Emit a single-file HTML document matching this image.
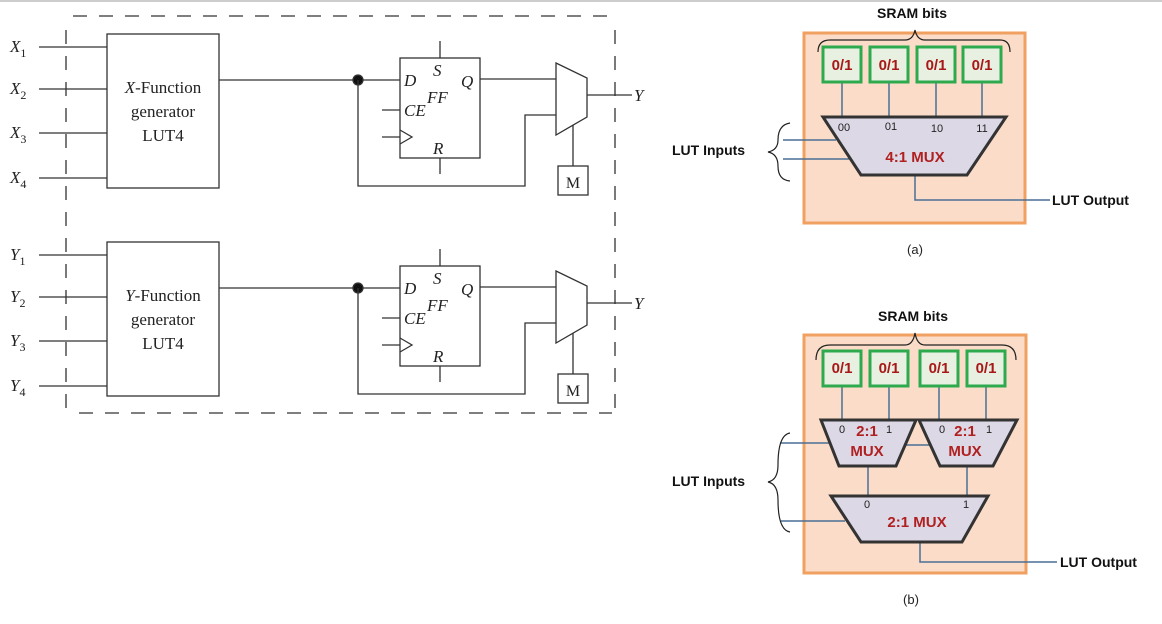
<!DOCTYPE html>
<html><head><meta charset="utf-8"><style>
html,body{margin:0;padding:0;background:#fff;}
svg{display:block;}
.s{font-family:"Liberation Serif",serif;fill:#222;}
.a{font-family:"Liberation Sans",sans-serif;}
</style></head><body>
<svg width="1162" height="624" viewBox="0 0 1162 624" xmlns="http://www.w3.org/2000/svg">
<line x1="0" y1="1" x2="1162" y2="1" stroke="#ccc" stroke-width="2"/>
<defs>
<g id="half" stroke="#333" stroke-width="1.3" fill="none">
  <line x1="39" y1="47" x2="107" y2="47"/>
  <line x1="39" y1="89" x2="107" y2="89"/>
  <line x1="39" y1="133" x2="107" y2="133"/>
  <line x1="39" y1="178" x2="107" y2="178"/>
  <rect x="107" y="34" width="112" height="154"/>
  <line x1="219" y1="80" x2="400" y2="80"/>
  <circle cx="358" cy="80" r="5" fill="#111"/>
  <rect x="400" y="58" width="80" height="100"/>
  <line x1="440" y1="41" x2="440" y2="58"/>
  <line x1="440" y1="158" x2="440" y2="174"/>
  <line x1="382" y1="110" x2="400" y2="110"/>
  <line x1="382" y1="137" x2="400" y2="137"/>
  <polyline points="400,130 412,137 400,144"/>
  <line x1="480" y1="79" x2="556" y2="79"/>
  <polygon points="556,63 587,78 587,117 556,135"/>
  <line x1="587" y1="95" x2="632" y2="95"/>
  <polyline points="358,80 358,186 525,186 525,115 556,115"/>
  <line x1="573" y1="125" x2="573" y2="166"/>
  <rect x="558" y="166" width="30" height="29"/>
</g>
</defs>
<!-- dashed frame -->
<g stroke="#333" stroke-width="1.3" fill="none" stroke-dasharray="14,12">
  <line x1="73" y1="16" x2="612" y2="16"/>
  <line x1="79" y1="413" x2="612" y2="413"/>
  <line x1="615" y1="30" x2="615" y2="410"/>
  <line x1="66" y1="30" x2="66" y2="410"/>
</g>
<use href="#half"/>
<use href="#half" transform="translate(0,208)"/>
<g class="s" font-size="17">
  <text x="10" y="52" font-style="italic">X<tspan font-size="12" font-style="normal" dy="5">1</tspan></text>
  <text x="10" y="94" font-style="italic">X<tspan font-size="12" font-style="normal" dy="5">2</tspan></text>
  <text x="10" y="138" font-style="italic">X<tspan font-size="12" font-style="normal" dy="5">3</tspan></text>
  <text x="10" y="183" font-style="italic">X<tspan font-size="12" font-style="normal" dy="5">4</tspan></text>
  <text x="10" y="260" font-style="italic">Y<tspan font-size="12" font-style="normal" dy="5">1</tspan></text>
  <text x="10" y="302" font-style="italic">Y<tspan font-size="12" font-style="normal" dy="5">2</tspan></text>
  <text x="10" y="346" font-style="italic">Y<tspan font-size="12" font-style="normal" dy="5">3</tspan></text>
  <text x="10" y="391" font-style="italic">Y<tspan font-size="12" font-style="normal" dy="5">4</tspan></text>
  <text x="163" y="93" text-anchor="middle"><tspan font-style="italic">X</tspan>-Function</text>
  <text x="163" y="117" text-anchor="middle">generator</text>
  <text x="163" y="141" text-anchor="middle">LUT4</text>
  <text x="163" y="301" text-anchor="middle"><tspan font-style="italic">Y</tspan>-Function</text>
  <text x="163" y="325" text-anchor="middle">generator</text>
  <text x="163" y="349" text-anchor="middle">LUT4</text>
  <g font-style="italic">
    <text x="404" y="86">D</text><text x="433" y="76">S</text><text x="461" y="87">Q</text>
    <text x="427" y="103">FF</text><text x="404" y="116">CE</text><text x="433" y="154">R</text>
    <text x="404" y="294">D</text><text x="433" y="284">S</text><text x="461" y="295">Q</text>
    <text x="427" y="311">FF</text><text x="404" y="324">CE</text><text x="433" y="362">R</text>
    <text x="634" y="101">Y</text><text x="634" y="309">Y</text>
  </g>
  <text x="573" y="188" text-anchor="middle" font-size="16">M</text>
  <text x="573" y="396" text-anchor="middle" font-size="16">M</text>
</g>

<!-- (a) -->
<g class="a">
  <rect x="804" y="33" width="221" height="190" fill="#fbdcc8" stroke="#f0a060" stroke-width="3"/>
  <text x="912" y="18" text-anchor="middle" font-size="14" font-weight="bold" fill="#111">SRAM bits</text>
  <path d="M818,52 Q818,40 830,40 L905,40 Q913,40 915,30 Q917,40 925,40 L1000,40 Q1010,40 1010,52" fill="none" stroke="#222" stroke-width="1.2"/>
  <g stroke="#4a6f95" stroke-width="1.5">
    <line x1="842" y1="82" x2="842" y2="117"/><line x1="889" y1="82" x2="889" y2="117"/>
    <line x1="936" y1="82" x2="936" y2="117"/><line x1="982" y1="82" x2="982" y2="117"/>
    <line x1="783" y1="140" x2="836" y2="140"/><line x1="783" y1="159" x2="849" y2="159"/>
    <polyline points="915,175 915,200 1050,200" fill="none"/>
  </g>
  <g fill="#e8f0e2" stroke="#2eaa4e" stroke-width="3">
    <rect x="823" y="47" width="38" height="35"/><rect x="870" y="47" width="38" height="35"/>
    <rect x="917" y="47" width="38" height="35"/><rect x="963" y="47" width="38" height="35"/>
  </g>
  <g font-size="15" font-weight="bold" fill="#a81818" text-anchor="middle">
    <text x="842" y="70">0/1</text><text x="889" y="70">0/1</text><text x="936" y="70">0/1</text><text x="982" y="70">0/1</text>
  </g>
  <polygon points="823,117 1006,117 967,175 861,175" fill="#dcd8e6" stroke="#333" stroke-width="3"/>
  <g font-size="11" fill="#222" text-anchor="middle">
    <text x="844" y="131">00</text><text x="891" y="130">01</text><text x="937" y="132">10</text><text x="982" y="132">11</text>
  </g>
  <text x="915" y="162" text-anchor="middle" font-size="15" font-weight="bold" fill="#b02020">4:1 MUX</text>
  <path d="M790,123 Q778,125 778,140 Q778,150 768,152 Q778,154 778,166 Q778,180 790,181" fill="none" stroke="#222" stroke-width="1.2"/>
  <text x="672" y="155" font-size="14" font-weight="bold" fill="#111">LUT Inputs</text>
  <text x="1052" y="205" font-size="14" font-weight="bold" fill="#111">LUT Output</text>
  <text x="915" y="254" text-anchor="middle" font-size="13" fill="#222">(a)</text>
</g>

<!-- (b) -->
<g class="a">
  <rect x="804" y="335" width="222" height="238" fill="#fbdcc8" stroke="#f0a060" stroke-width="3"/>
  <text x="913" y="321" text-anchor="middle" font-size="14" font-weight="bold" fill="#111">SRAM bits</text>
  <path d="M816,360 Q816,345 830,345 L905,345 Q913,345 915,333 Q917,345 925,345 L1002,345 Q1016,345 1016,360" fill="none" stroke="#222" stroke-width="1.2"/>
  <g stroke="#4a6f95" stroke-width="1.5" fill="none">
    <line x1="842" y1="386" x2="842" y2="420"/><line x1="889" y1="386" x2="889" y2="420"/>
    <line x1="939" y1="386" x2="939" y2="420"/><line x1="986" y1="386" x2="986" y2="420"/>
    <line x1="780" y1="443" x2="832" y2="443"/>
    <line x1="900" y1="445" x2="932" y2="445"/>
    <line x1="868" y1="466" x2="868" y2="496"/><line x1="967" y1="466" x2="967" y2="496"/>
    <line x1="781" y1="521" x2="845" y2="521"/>
    <polyline points="920,542 920,562 1057,562"/>
  </g>
  <g fill="#e8f0e2" stroke="#2eaa4e" stroke-width="3">
    <rect x="823" y="351" width="38" height="35"/><rect x="870" y="351" width="38" height="35"/>
    <rect x="920" y="351" width="38" height="35"/><rect x="967" y="351" width="38" height="35"/>
  </g>
  <g font-size="15" font-weight="bold" fill="#a81818" text-anchor="middle">
    <text x="842" y="373">0/1</text><text x="889" y="373">0/1</text><text x="939" y="373">0/1</text><text x="986" y="373">0/1</text>
  </g>
  <g fill="#dcd8e6" stroke="#333" stroke-width="3">
    <polygon points="821,420 916,420 896,466 839,466"/>
    <polygon points="919,420 1017,420 993,466 940,466"/>
    <polygon points="831,496 988,496 962,542 861,542"/>
  </g>
  <g font-size="11" fill="#222" text-anchor="middle">
    <text x="842" y="433">0</text><text x="889" y="433">1</text><text x="942" y="433">0</text><text x="989" y="433">1</text>
    <text x="867" y="508">0</text><text x="966" y="508">1</text>
  </g>
  <g font-size="15" font-weight="bold" fill="#b02020" text-anchor="middle">
    <text x="867" y="436">2:1</text><text x="867" y="456">MUX</text>
    <text x="965" y="436">2:1</text><text x="965" y="456">MUX</text>
    <text x="917" y="527">2:1 MUX</text>
  </g>
  <path d="M790,433 Q778,435 778,465 Q778,480 768,482 Q778,484 778,500 Q778,530 790,532" fill="none" stroke="#222" stroke-width="1.2"/>
  <text x="672" y="486" font-size="14" font-weight="bold" fill="#111">LUT Inputs</text>
  <text x="1060" y="567" font-size="14" font-weight="bold" fill="#111">LUT Output</text>
  <text x="911" y="604" text-anchor="middle" font-size="13" fill="#222">(b)</text>
</g>
</svg>
</body></html>
